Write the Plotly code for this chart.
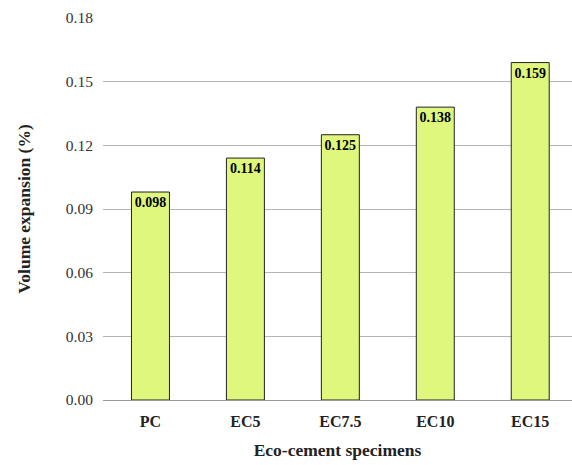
import plotly.graph_objects as go

categories = ["PC", "EC5", "EC7.5", "EC10", "EC15"]
values = [0.098, 0.114, 0.125, 0.138, 0.159]
value_labels = ["0.098", "0.114", "0.125", "0.138", "0.159"]
y_ticks = [0.00, 0.03, 0.06, 0.09, 0.12, 0.15, 0.18]
y_tick_labels = ["0.00", "0.03", "0.06", "0.09", "0.12", "0.15", "0.18"]

serif = "Liberation Serif, Times New Roman, serif"

fig = go.Figure(go.Bar(
    x=list(range(len(categories))),
    y=values,
    width=0.4,
    marker=dict(color="#dff77c", line=dict(color="#222222", width=1)),
    text=value_labels,
    textposition="inside",
    insidetextanchor="end",
    textangle=0,
    textfont=dict(family=serif, size=14, color="black", weight="bold"),
    cliponaxis=False,
))

fig.update_layout(
    width=572, height=465,
    margin=dict(l=103, r=0, t=18, b=65),
    plot_bgcolor="white", paper_bgcolor="white",
    showlegend=False,
    font=dict(family=serif, color="#222222"),
)
fig.update_xaxes(
    range=[-0.5, 4.44],
    tickmode="array", tickvals=list(range(len(categories))), ticktext=categories,
    tickfont=dict(family=serif, size=16, color="#222222", weight="bold"),
    showgrid=False, showline=False,
    ticks="outside", ticklen=7, tickcolor="rgba(0,0,0,0)",
    title=dict(text="Eco-cement specimens", font=dict(family=serif, size=17.5, color="#222222", weight="bold"), standoff=14),
)
fig.update_yaxes(
    range=[0, 0.18],
    tickmode="array", tickvals=y_ticks, ticktext=y_tick_labels,
    tickfont=dict(family=serif, size=15.5, color="#333333"),
    showgrid=True, gridcolor="#b4b4b4", gridwidth=1,
    zeroline=True, zerolinecolor="#999999", zerolinewidth=1,
    showline=False,
    ticks="outside", ticklen=6, tickcolor="rgba(0,0,0,0)",
    title=dict(text="Volume expansion (%)", font=dict(family=serif, size=17.5, color="#222222", weight="bold"), standoff=30),
)

fig.write_html("out.html")
